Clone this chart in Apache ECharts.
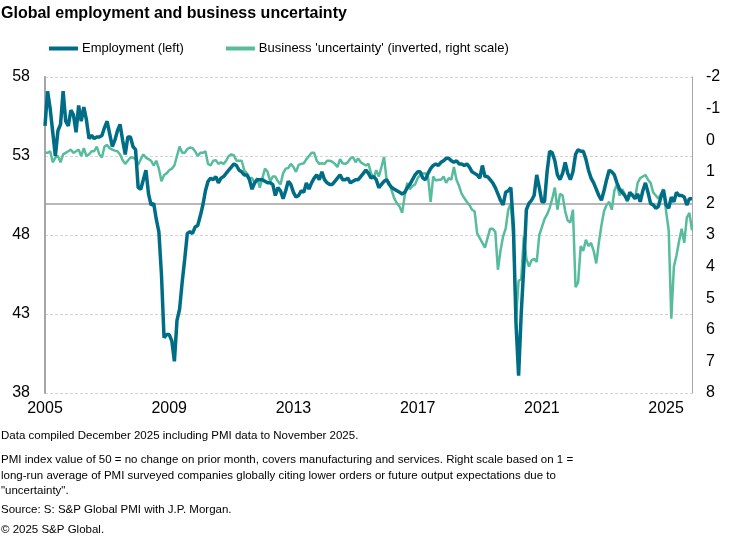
<!DOCTYPE html>
<html><head><meta charset="utf-8">
<script src="https://cdn.jsdelivr.net/npm/echarts@6/dist/echarts.min.js"></script>
<style>html,body{margin:0;padding:0;background:#fff}#c{width:745px;height:542px}</style>
</head><body><div id="c"></div>
<script>
// Monthly, Jan 2005 - Nov 2025
const startYear = 2005, endYear = 2025, endMonth = 11;
const tickLabels = ['2005', '2009', '2013', '2017', '2021', '2025'];
const leftTicks = [38, 43, 48, 53, 58];
const rightTicks = [-2, -1, 0, 1, 2, 3, 4, 5, 6, 7, 8];

// Global employment PMI (left scale)
const employment = [
  54.9, 57.1, 56.0, 54.5, 53.0, 54.6, 55.0, 57.1, 55.2, 54.9, 55.9, 55.6,
  54.5, 56.2, 55.2, 56.1, 55.3, 54.1, 54.3, 54.1, 54.2, 54.2, 54.3, 54.8,
  55.2, 54.4, 53.6, 54.0, 54.6, 55.0, 54.0, 53.1, 54.2, 54.2, 53.6, 53.4,
  51.0, 50.9, 51.5, 52.1, 50.6, 49.9, 50.0, 49.0, 48.2, 45.5, 41.5, 41.7,
  41.7, 41.3, 40.0, 42.6, 43.3, 45.0, 46.5, 48.1, 48.2, 48.1, 48.5, 48.6,
  49.2, 49.9, 50.8, 51.4, 51.6, 51.5, 51.7, 51.3, 51.6, 51.7, 51.9, 52.1,
  52.3, 52.5, 52.4, 52.1, 52.0, 51.8, 51.8, 51.5, 50.9, 51.3, 51.5, 51.5,
  51.5, 51.4, 51.3, 51.3, 51.2, 50.5, 51.0, 50.8, 50.3, 50.8, 51.4, 51.2,
  50.7, 50.4, 50.5, 50.8, 50.7, 51.3, 50.9, 51.3, 51.6, 51.8, 51.5, 52.0,
  51.5, 51.3, 51.2, 51.2, 51.4, 51.6, 51.8, 51.5, 51.5, 51.6, 51.3, 51.4,
  51.5, 51.5, 51.7, 51.9, 52.1, 51.9, 51.6, 51.7, 51.5, 51.0, 51.2, 51.4,
  51.5, 51.2, 51.0, 50.9, 50.8, 50.7, 50.6, 50.7, 51.0, 51.2, 51.5, 51.8,
  52.0, 52.0, 51.6, 51.5, 51.9, 52.2, 52.4, 52.5, 52.4, 52.6, 52.7, 52.85,
  52.85, 52.7, 52.6, 52.7, 52.5, 52.5, 52.4, 52.5, 52.3, 52.0, 51.9, 51.8,
  51.6, 52.4, 51.7, 51.7, 51.5, 51.3, 51.0, 50.6, 50.2, 49.9, 50.7, 50.8,
  51.0, 48.5, 42.4, 39.1, 43.0, 46.0, 49.6, 50.0, 50.2, 50.5, 51.8, 51.0,
  50.1, 50.1, 52.0, 53.3, 53.2, 52.7, 51.8, 51.5, 51.9, 52.6, 51.9, 51.5,
  52.0, 53.1, 53.4, 53.3, 53.3, 52.8, 52.1, 51.6, 51.3, 50.9, 50.5, 50.2,
  50.8, 51.5, 52.1, 52.0, 51.8, 51.3, 50.9, 50.7, 50.5, 50.2, 50.7, 50.5,
  50.3, 50.6, 50.1, 50.8, 51.3, 50.7, 50.0, 49.9, 49.7, 49.8, 50.4, 50.85,
  49.9, 49.7, 50.4, 50.1, 50.7, 50.5, 50.5, 50.4, 49.9, 50.3, 50.3
];

// Business 'uncertainty' index (right scale, inverted)
const uncertainty = [
  0.4, 0.4, 0.35, 0.7, 0.55, 0.5, 0.7, 0.45, 0.4, 0.35, 0.3, 0.4,
  0.35, 0.3, 0.5, 0.25, 0.5, 0.45, 0.35, 0.35, 0.2, 0.45, 0.55, 0.2,
  0.15, 0.25, 0.3, 0.33, 0.35, 0.45, 0.63, 0.75, 0.65, 0.55, 0.55, 0.6,
  0.78, 0.6, 0.45, 0.55, 0.6, 0.65, 0.8, 0.65, 0.9, 1.3, 1.1, 1.05,
  0.95, 0.9, 0.8, 0.5, 0.2, 0.4, 0.4, 0.28, 0.23, 0.25, 0.35, 0.5,
  0.4, 0.4, 0.35, 0.75, 0.8, 0.65, 0.63, 0.75, 0.7, 0.75, 0.65, 0.5,
  0.45, 0.48, 0.65, 0.65, 0.65, 0.95, 1.05, 1.2, 1.2, 1.35, 1.2, 1.5,
  1.2, 0.9, 1.0, 1.3, 1.15, 1.15, 1.3, 1.4, 1.05, 0.9, 0.88, 0.75,
  0.85, 1.0, 0.78, 0.75, 0.73, 0.6, 0.5, 0.4, 0.4, 0.65, 0.75, 0.73,
  0.75, 0.65, 0.65, 0.68, 0.75, 0.85, 0.6, 0.73, 0.75, 0.7, 0.58, 0.53,
  0.7, 0.58, 0.7, 0.75, 0.8, 0.75, 1.05, 1.2, 0.95, 1.15, 0.85, 0.53,
  1.25, 1.35, 1.6, 1.85, 2.0, 2.1, 2.3, 1.75, 1.35, 1.55, 1.45, 1.4,
  1.2, 1.1, 1.05, 1.05, 1.15, 1.95, 1.15, 1.28, 1.25, 1.25, 1.15, 1.35,
  1.2, 1.25, 0.85, 1.25, 1.45, 1.7, 1.83, 1.95, 2.05, 2.2, 2.25, 2.95,
  3.1, 3.25, 3.4, 3.1, 2.8, 2.8, 2.9, 4.1, 3.5, 3.05, 2.8, 2.2,
  2.0, 3.1, 5.7, 4.45, 4.4, 3.05, 3.75, 4.0, 3.8, 3.75, 3.85, 3.0,
  2.75, 2.5, 2.35, 2.15, 1.85, 1.5, 2.2, 1.7, 1.75, 2.25, 2.55, 2.6,
  2.2, 4.65, 4.5, 3.35, 3.5, 3.15, 3.35, 3.25, 3.5, 3.9, 3.25, 2.7,
  2.25, 2.05, 1.95, 2.2, 1.6, 1.4, 1.75, 1.55, 1.7, 1.95, 1.75, 1.7,
  1.85, 1.35, 1.2, 1.15, 1.1, 1.25, 1.35, 1.65, 1.75, 1.85, 1.7, 1.55,
  2.25, 2.85, 5.65, 4.0, 3.65, 3.2, 2.8, 3.25, 2.45, 2.3, 2.85
];

const categories = [];
for (let y = startYear; y <= endYear; y++) {
  const last = (y === endYear) ? endMonth : 12;
  for (let m = 1; m <= last; m++) categories.push(y + '-' + String(m).padStart(2, '0'));
}

const FONT = "'Liberation Sans', Arial, sans-serif";
const footer = [
  ['Data compiled December 2025 including PMI data to November 2025.', 437],
  ['PMI index value of 50 = no change on prior month, covers manufacturing and services. Right scale based on 1 =', 461],
  ['long-run average of PMI surveyed companies globally citing lower orders or future output expectations due to', 477],
  ['"uncertainty".', 492],
  ['Source: S: S&P Global PMI with J.P. Morgan.', 511],
  ['\u00A9 2025 S&P Global.', 531]
];

const chart = echarts.init(document.getElementById('c'), null, { renderer: 'canvas' });
chart.setOption({
  animation: false,
  backgroundColor: '#ffffff',
  title: {
    text: 'Global employment and business uncertainty',
    left: 1, top: 6, padding: 0,
    textStyle: { fontFamily: FONT, fontWeight: 'bold', fontSize: 16, color: '#000' }
  },
  legend: {
    left: 49, top: 42, padding: 0,
    icon: 'rect', itemWidth: 29, itemHeight: 4, itemGap: 42,
    textStyle: { fontFamily: FONT, fontSize: 13, color: '#000', padding: [0, 0, 0, -1] },
    data: ['Employment (left)', "Business 'uncertainty' (inverted, right scale)"]
  },
  grid: { left: 45, right: 53, top: 77, bottom: 149, containLabel: false },
  xAxis: {
    type: 'category', data: categories, boundaryGap: false,
    axisLine: { show: false }, axisTick: { show: false },
    axisLabel: {
      interval: (i, v) => v.endsWith('-01') && tickLabels.includes(v.slice(0, 4)),
      formatter: v => v.slice(0, 4),
      fontFamily: FONT, fontSize: 16, color: '#000', margin: 8
    },
    splitLine: { show: false }
  },
  yAxis: [{
    type: 'value', min: leftTicks[0], max: leftTicks[leftTicks.length - 1], interval: 5,
    axisLine: { show: true, lineStyle: { color: '#a6a6a6', width: 2 } },
    axisTick: { show: false },
    axisLabel: { fontFamily: FONT, fontSize: 16, color: '#000', margin: 15 },
    splitLine: { show: true, lineStyle: { color: '#d4d4d4', type: [3, 2], width: 1 } }
  }, {
    type: 'value', position: 'right', inverse: true,
    min: rightTicks[0], max: rightTicks[rightTicks.length - 1], interval: 1,
    axisLine: { show: true, lineStyle: { color: '#a6a6a6', width: 1 } },
    axisTick: { show: false },
    axisLabel: { fontFamily: FONT, fontSize: 16, color: '#000', margin: 14 },
    splitLine: { show: false }
  }],
  series: [{
    name: "Business 'uncertainty' (inverted, right scale)",
    type: 'line', yAxisIndex: 1, data: uncertainty,
    showSymbol: false, symbol: 'none',
    lineStyle: { color: '#56BC9C', width: 2.5 }, itemStyle: { color: '#56BC9C' }, z: 2
  }, {
    name: 'Employment (left)',
    type: 'line', yAxisIndex: 0, data: employment,
    showSymbol: false, symbol: 'none',
    lineStyle: { color: '#006D87', width: 3.5 }, itemStyle: { color: '#006D87' }, z: 3,
    markLine: {
      silent: true, symbol: 'none', label: { show: false },
      lineStyle: { color: '#a0a0a0', type: 'solid', width: 1.5 },
      data: [{ yAxis: 50 }], z: 1
    }
  }],
  graphic: footer.map(([t, y]) => ({
    type: 'text', left: 1, top: y - 7,
    style: { text: t, fontFamily: FONT, fontSize: 11.5, fill: '#000' }
  }))
});
</script></body></html>
